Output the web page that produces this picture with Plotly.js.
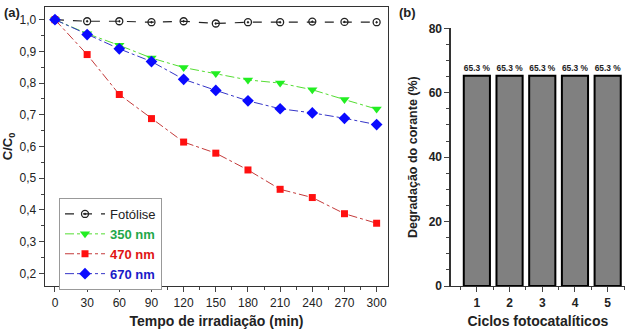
<!DOCTYPE html>
<html><head><meta charset="utf-8">
<script src="https://cdn.plot.ly/plotly-3.0.1.min.js"></script>
<style>html,body{margin:0;padding:0;background:#fff}#g{width:640px;height:332px}</style>
</head><body><div id="g"></div>
<script>
const time = [0,30,60,90,120,150,180,210,240,270,300];
const fotolise = [1.0,0.995,0.995,0.992,0.995,0.988,0.992,0.992,0.994,0.993,0.992];
const nm350 = [1.0,0.956,0.919,0.879,0.849,0.830,0.810,0.800,0.779,0.748,0.718];
const nm470 = [1.0,0.890,0.764,0.688,0.614,0.579,0.526,0.465,0.439,0.388,0.358];
const nm670 = [1.0,0.953,0.908,0.868,0.812,0.777,0.744,0.719,0.706,0.689,0.669];
const ciclos = [1,2,3,4,5];
const degradacao = [65.3,65.3,65.3,65.3,65.3];
const barLabels = degradacao.map(v => v.toFixed(1) + ' %');

const F = 'Liberation Sans, Arial, sans-serif';
const traces = [
 {x:time,y:fotolise,name:'Fotólise',type:'scatter',mode:'lines+markers',xaxis:'x',yaxis:'y',
  line:{color:'#222',dash:'dash',width:1.2},marker:{symbol:'circle-open-dot',size:7,color:'#222',line:{width:1.3}}},
 {x:time,y:nm350,name:'<b><span style="color:#1fa84a">350 nm</span></b>',type:'scatter',mode:'lines+markers',xaxis:'x',yaxis:'y',
  line:{color:'#55dd33',dash:'dashdot',width:1},marker:{symbol:'triangle-down',size:9,color:'#22ee22'}},
 {x:time,y:nm470,name:'<b><span style="color:#e01515">470 nm</span></b>',type:'scatter',mode:'lines+markers',xaxis:'x',yaxis:'y',
  line:{color:'#c43a3a',dash:'dashdot',width:1},marker:{symbol:'square',size:7,color:'#ff1010'}},
 {x:time,y:nm670,name:'<b><span style="color:#1a1ac8">670 nm</span></b>',type:'scatter',mode:'lines+markers',xaxis:'x',yaxis:'y',
  line:{color:'#3535c8',dash:'dashdot',width:1},marker:{symbol:'diamond',size:9,color:'#0a0aff'}},
 {x:ciclos,y:degradacao,type:'bar',xaxis:'x2',yaxis:'y2',showlegend:false,width:0.8,
  marker:{color:'#808080',line:{color:'#000',width:2}},
  text:barLabels,textposition:'outside',cliponaxis:false,
  textfont:{family:F,size:9,color:'#222',weight:'bold'}}
];
const layout = {
 width:640,height:332,margin:{l:0,r:0,t:0,b:0},paper_bgcolor:'#fff',plot_bgcolor:'rgba(0,0,0,0)',
 separators:',.',font:{family:F,color:'#222'},showlegend:true,
 xaxis:{domain:[45/640,388/640],anchor:'y',range:[-9.3,310.6],dtick:30,tick0:0,ticks:'outside',ticklen:5,
   minor:{dtick:15,ticks:'outside',ticklen:3},showline:true,mirror:true,linecolor:'#333',linewidth:1.3,
   showgrid:false,zeroline:false,tickfont:{size:12},
   title:{text:'<b>Tempo de irradiação (min)</b>',font:{size:14},standoff:7}},
 yaxis:{domain:[46/332,325/332],anchor:'x',range:[0.16,1.04],dtick:0.1,tick0:0.2,tickformat:'.1f',ticks:'outside',ticklen:5,
   minor:{dtick:0.05,ticks:'outside',ticklen:3},showline:true,mirror:true,linecolor:'#333',linewidth:1.3,
   showgrid:false,zeroline:false,tickfont:{size:12},
   title:{text:'<b>C/C<sub>0</sub></b>',font:{size:13},standoff:8}},
 xaxis2:{domain:[450.7/640,625/640],anchor:'y2',range:[0.2,5.53],tickvals:ciclos,ticks:'outside',ticklen:5,
   minor:{dtick:0.5,tick0:0.5,ticks:'outside',ticklen:3},showline:true,linecolor:'#333',linewidth:1.3,
   showgrid:false,zeroline:false,tickfont:{size:12,weight:'bold'},
   title:{text:'<b>Ciclos fotocatalíticos</b>',font:{size:14},standoff:7}},
 yaxis2:{domain:[46/332,(332-28.3)/332],anchor:'x2',range:[0,80],dtick:20,ticks:'outside',ticklen:5,
   minor:{dtick:5,ticks:'outside',ticklen:3},showline:true,linecolor:'#333',linewidth:1.3,
   showgrid:false,zeroline:false,tickfont:{size:12,weight:'bold'},
   title:{text:'<b>Degradação do corante (%)</b>',font:{size:12.5},standoff:8}},
 legend:{x:59/640,y:(332-198)/332,xanchor:'left',yanchor:'top',bordercolor:'#999',borderwidth:1,
   bgcolor:'#fff',font:{size:13,color:'#222'},itemwidth:40,tracegroupgap:0},
 annotations:[
  {text:'<b>(a)</b>',xref:'paper',yref:'paper',x:2/640,y:(332-3)/332,xanchor:'left',yanchor:'top',showarrow:false,font:{size:13}},
  {text:'<b>(b)</b>',xref:'paper',yref:'paper',x:397/640,y:(332-3)/332,xanchor:'left',yanchor:'top',showarrow:false,font:{size:13}}
 ]
};
Plotly.newPlot('g',traces,layout,{staticPlot:true});
</script></body></html>
